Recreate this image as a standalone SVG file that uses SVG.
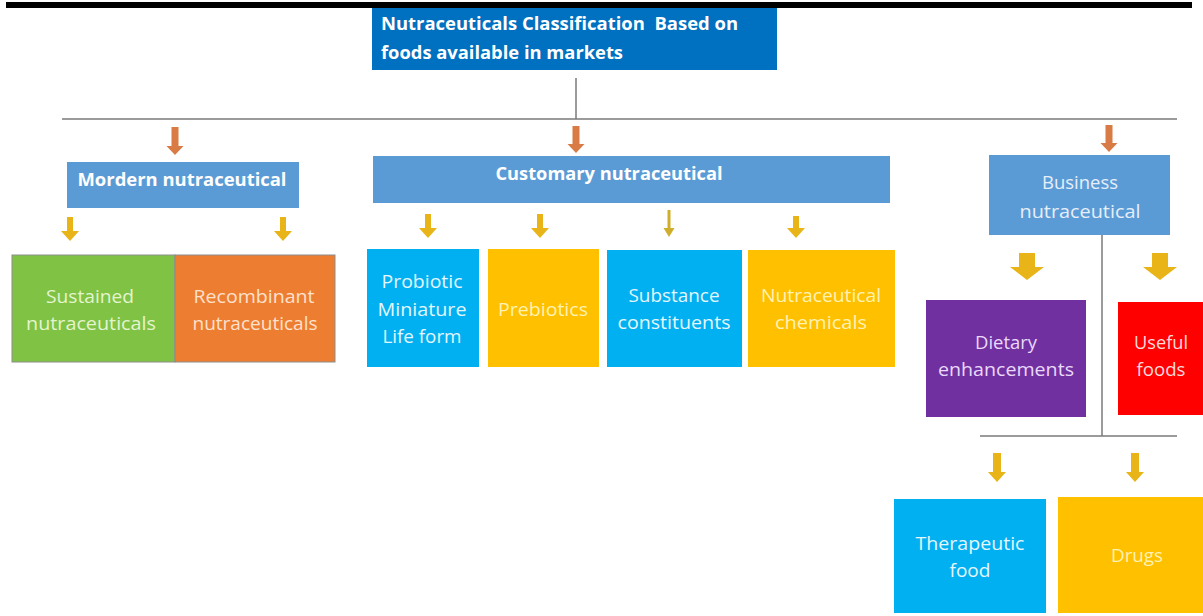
<svg xmlns="http://www.w3.org/2000/svg" width="1203" height="616" viewBox="0 0 1203 616">
  <defs>
    <style>
      .hd { font-family: "Open Sans", "Liberation Sans", sans-serif; font-weight: bold; font-size: 17.5px; fill: #ffffff; }
      .tx { font-family: "Open Sans", "Liberation Sans", sans-serif; font-size: 18px; text-anchor: middle; }
      .line { stroke: #7a7a7a; stroke-width: 1.5; fill: none; }
      .arrOr { fill: #d97b45; }
      .arrYe { fill: #e8b418; }
      .arrOl { fill: #cfae2c; }
    </style>
  </defs>
  <rect width="1203" height="616" fill="#ffffff"/>
  <!-- page rule at the top -->
  <rect x="6" y="2" width="1186" height="6" fill="#000000"/>

  <!-- connectors -->
  <g id="connectors">
    <line class="line" x1="576" y1="78" x2="576" y2="119"/>
    <line class="line" x1="62" y1="119" x2="1177" y2="119"/>
    <line class="line" x1="1102" y1="235" x2="1102" y2="436"/>
    <line class="line" x1="980" y1="436" x2="1177" y2="436"/>
    <!-- orange block arrows under the main rule -->
    <path class="arrOr" d="M171.5,127 h7 v19 h5 l-8.5,9 l-8.5,-9 h5 z"/>
    <path class="arrOr" d="M572.5,126 h7 v18 h5 l-8.5,9 l-8.5,-9 h5 z"/>
    <path class="arrOr" d="M1105.5,125 h7 v18 h5 l-8.5,9 l-8.5,-9 h5 z"/>
    <!-- yellow arrows under Mordern nutraceutical -->
    <path class="arrYe" d="M67,217 h6 v14 h6 l-9,10 l-9,-10 h6 z"/>
    <path class="arrYe" d="M280,217 h6 v14 h6 l-9,10 l-9,-10 h6 z"/>
    <!-- yellow arrows under Customary nutraceutical -->
    <path class="arrYe" d="M425,214 h6 v14 h6 l-9,10 l-9,-10 h6 z"/>
    <path class="arrYe" d="M537,214 h6 v14 h6 l-9,10 l-9,-10 h6 z"/>
    <path class="arrOl" d="M667.5,210 h3 v18 h4 l-5.5,9 l-5.5,-9 h4 z"/>
    <path class="arrYe" d="M793,216 h6 v12 h6 l-9,10 l-9,-10 h6 z"/>
    <!-- wide arrows under Business nutraceutical -->
    <path class="arrYe" d="M1019,253 h16 v14 h9 l-17,13 l-17,-13 h9 z"/>
    <path class="arrYe" d="M1152,253 h16 v14 h9 l-17,13 l-17,-13 h9 z"/>
    <!-- arrows under the lower rule -->
    <path class="arrYe" d="M993,453 h8 v19 h5 l-9,10 l-9,-10 h5 z"/>
    <path class="arrYe" d="M1131,453 h8 v19 h5 l-9,10 l-9,-10 h5 z"/>
  </g>

  <g id="title">
    <rect x="372" y="8" width="405" height="62" fill="#0070c0"/>
    <text class="hd" x="381" y="30" textLength="357" lengthAdjust="spacingAndGlyphs">Nutraceuticals Classification&#160; Based on</text>
    <text class="hd" x="381" y="59" textLength="242" lengthAdjust="spacingAndGlyphs">foods available in markets</text>
  </g>

  <g id="modern">
    <rect x="67" y="162" width="232" height="46" fill="#5b9bd5"/>
    <text class="hd" x="182" y="186" text-anchor="middle" textLength="209" lengthAdjust="spacingAndGlyphs">Mordern nutraceutical</text>
  </g>

  <g id="customary">
    <rect x="373" y="156" width="517" height="47" fill="#5b9bd5"/>
    <text class="hd" x="609" y="180" text-anchor="middle" textLength="227" lengthAdjust="spacingAndGlyphs">Customary nutraceutical</text>
  </g>

  <g id="business">
    <rect x="989" y="155" width="181" height="80" fill="#5b9bd5"/>
    <text class="tx" x="1080" y="189" fill="#e6eef9" textLength="76" lengthAdjust="spacingAndGlyphs">Business</text>
    <text class="tx" x="1080" y="218" fill="#e6eef9" textLength="121" lengthAdjust="spacingAndGlyphs">nutraceutical</text>
  </g>

  <g id="sustained">
    <rect x="12" y="255" width="163" height="107" fill="#7fc244" stroke="#8d8d8d" stroke-width="1"/>
    <text class="tx" x="90" y="303" fill="#e3f4cf" textLength="88" lengthAdjust="spacingAndGlyphs">Sustained</text>
    <text class="tx" x="91" y="330" fill="#e3f4cf" textLength="130" lengthAdjust="spacingAndGlyphs">nutraceuticals</text>
  </g>

  <g id="recombinant">
    <rect x="175" y="255" width="160" height="107" fill="#ed7d31" stroke="#8d8d8d" stroke-width="1"/>
    <text class="tx" x="254" y="303" fill="#fde1cc" textLength="121" lengthAdjust="spacingAndGlyphs">Recombinant</text>
    <text class="tx" x="255" y="330" fill="#fde1cc" textLength="125" lengthAdjust="spacingAndGlyphs">nutraceuticals</text>
  </g>

  <g id="probiotic">
    <rect x="367" y="249" width="112" height="118" fill="#00b0f0"/>
    <text class="tx" x="422" y="288" fill="#e4f6fe" textLength="81" lengthAdjust="spacingAndGlyphs">Probiotic</text>
    <text class="tx" x="422" y="316" fill="#e4f6fe" textLength="89" lengthAdjust="spacingAndGlyphs">Miniature</text>
    <text class="tx" x="422" y="343" fill="#e4f6fe" textLength="79" lengthAdjust="spacingAndGlyphs">Life form</text>
  </g>

  <g id="prebiotics">
    <rect x="488" y="249" width="111" height="118" fill="#ffc000"/>
    <text class="tx" x="543" y="316" fill="#fff2b3" textLength="90" lengthAdjust="spacingAndGlyphs">Prebiotics</text>
  </g>

  <g id="substance">
    <rect x="607" y="250" width="135" height="117" fill="#00b0f0"/>
    <text class="tx" x="674" y="302" fill="#e4f6fe" textLength="91" lengthAdjust="spacingAndGlyphs">Substance</text>
    <text class="tx" x="674" y="329" fill="#e4f6fe" textLength="113" lengthAdjust="spacingAndGlyphs">constituents</text>
  </g>

  <g id="chemicals">
    <rect x="748" y="250" width="147" height="117" fill="#ffc000"/>
    <text class="tx" x="821" y="302" fill="#fff2b3" textLength="120" lengthAdjust="spacingAndGlyphs">Nutraceutical</text>
    <text class="tx" x="821" y="329" fill="#fff2b3" textLength="92" lengthAdjust="spacingAndGlyphs">chemicals</text>
  </g>

  <g id="dietary">
    <rect x="926" y="300" width="160" height="117" fill="#7030a0"/>
    <text class="tx" x="1006" y="349" fill="#ead9fa" textLength="62" lengthAdjust="spacingAndGlyphs">Dietary</text>
    <text class="tx" x="1006" y="376" fill="#ead9fa" textLength="136" lengthAdjust="spacingAndGlyphs">enhancements</text>
  </g>

  <g id="useful">
    <rect x="1118" y="302" width="85" height="113" fill="#ff0000"/>
    <text class="tx" x="1161" y="349" fill="#ffd9d9" textLength="54" lengthAdjust="spacingAndGlyphs">Useful</text>
    <text class="tx" x="1161" y="376" fill="#ffd9d9" textLength="49" lengthAdjust="spacingAndGlyphs">foods</text>
  </g>

  <g id="therapeutic">
    <rect x="894" y="499" width="152" height="114" fill="#00b0f0"/>
    <text class="tx" x="970" y="550" fill="#e4f6fe" textLength="109" lengthAdjust="spacingAndGlyphs">Therapeutic</text>
    <text class="tx" x="970" y="577" fill="#e4f6fe" textLength="41" lengthAdjust="spacingAndGlyphs">food</text>
  </g>

  <g id="drugs">
    <rect x="1058" y="497" width="145" height="116" fill="#ffc000"/>
    <text class="tx" x="1137" y="562" fill="#fff2b3" textLength="52" lengthAdjust="spacingAndGlyphs">Drugs</text>
  </g>
</svg>
